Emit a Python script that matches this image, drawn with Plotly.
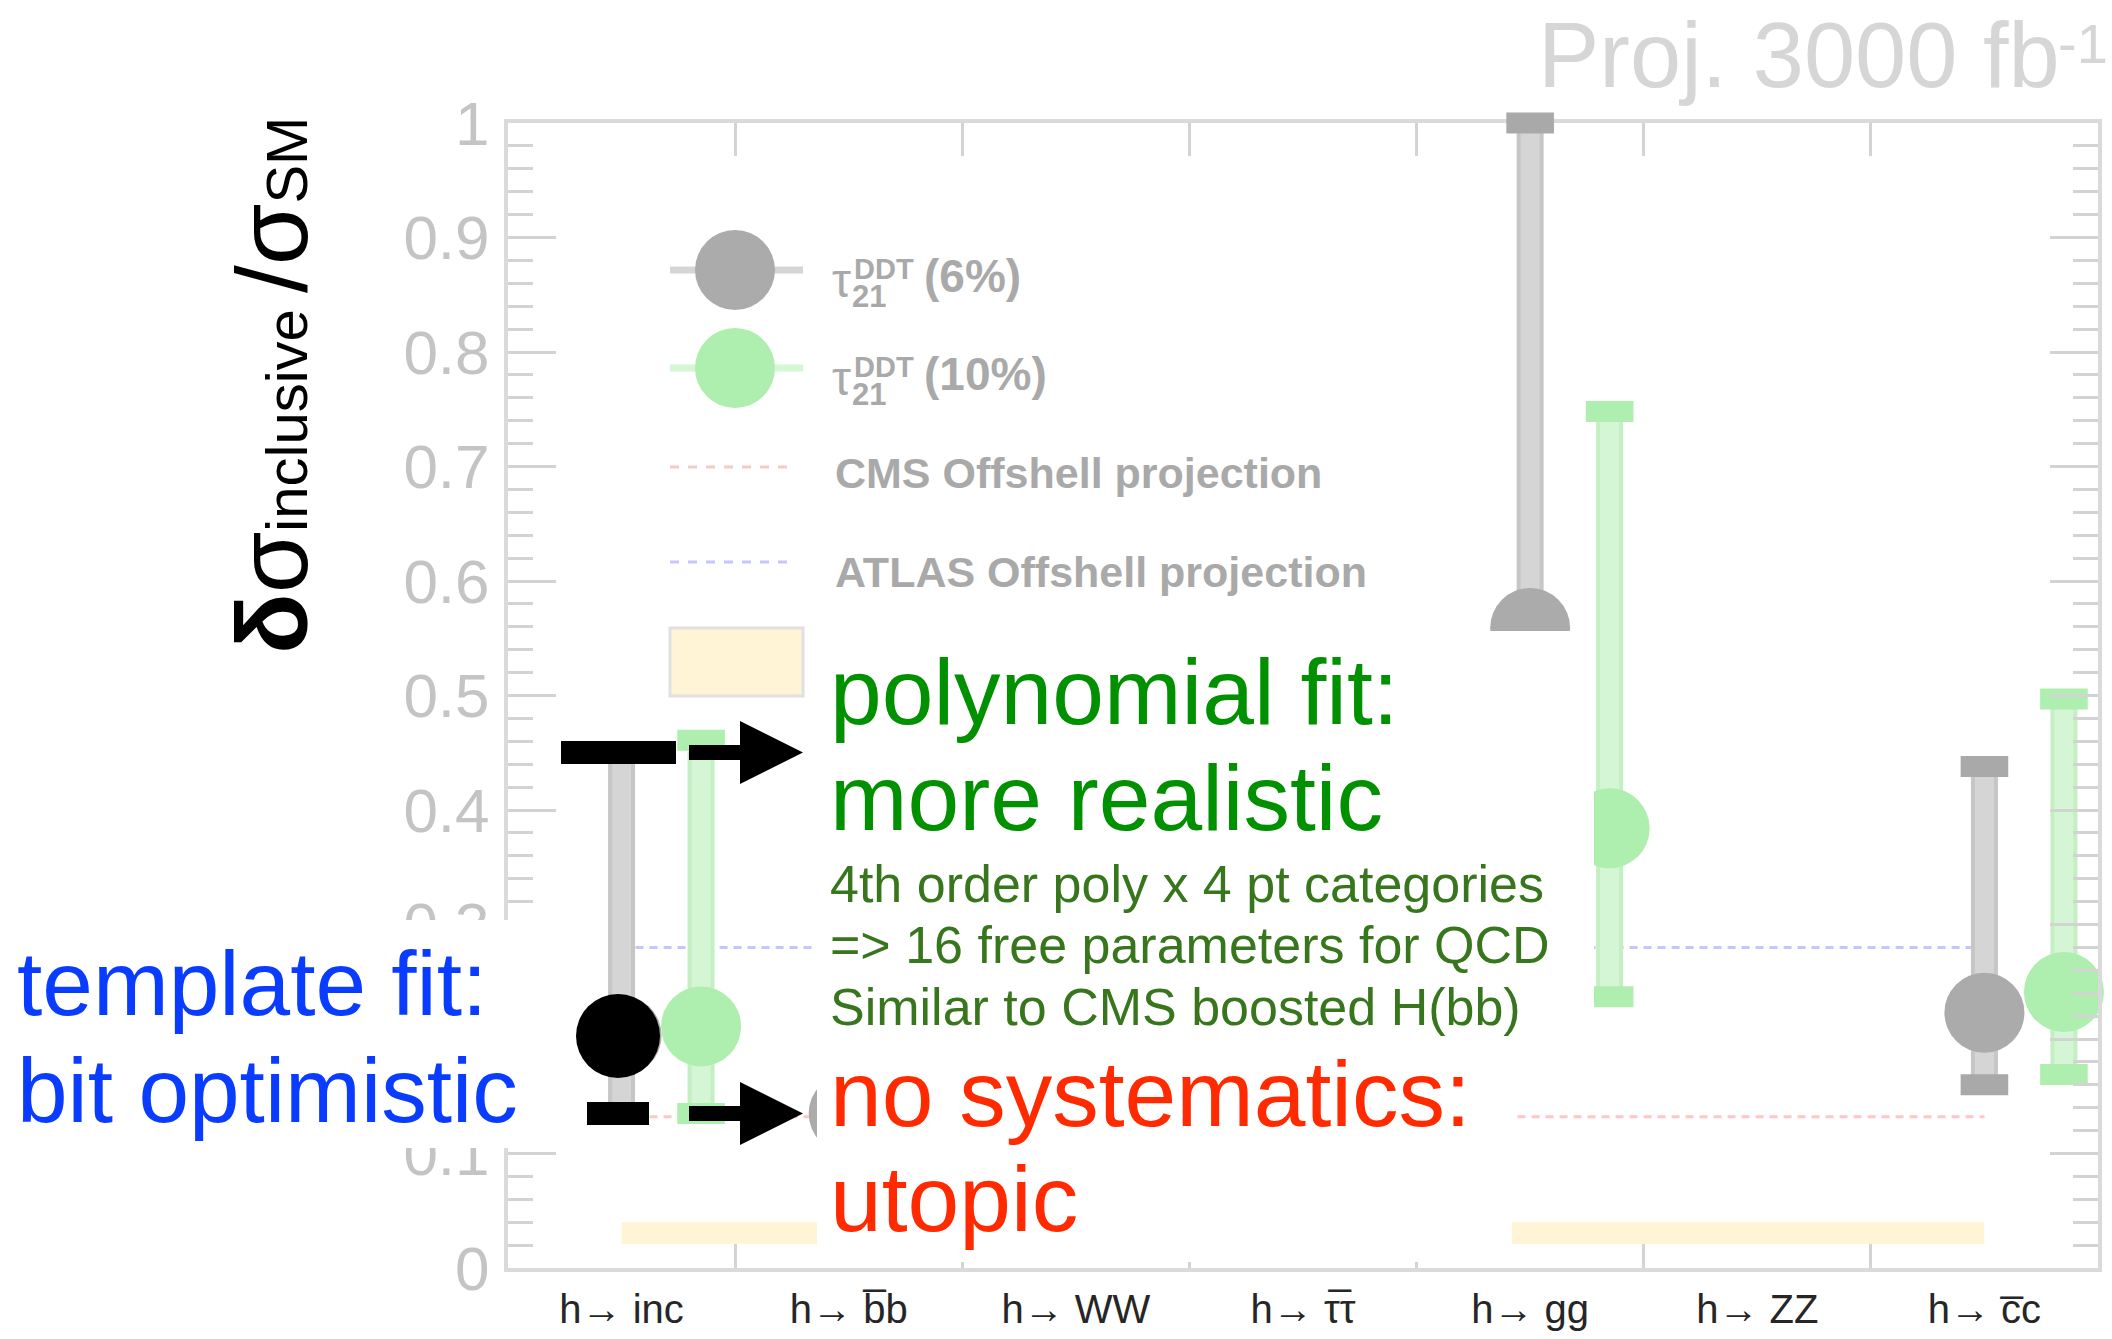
import plotly.graph_objects as go

W, H = 2112, 1339
FONT = "Liberation Sans, Arial, sans-serif"

# ---------------- data ----------------
categories = ["h\u2192 inc", "h\u2192 b\u0305b", "h\u2192 WW", "h\u2192 \u03c4\u0305\u03c4",
              "h\u2192 gg", "h\u2192 ZZ", "h\u2192 c\u0305c"]
# tau21 DDT (6%): central value, lower end, upper end (None = not visible)
gray_val = [0.203, 0.135, None, None, 0.559, None, 0.223]
gray_lo = [0.135, None, None, None, 0.300, None, 0.160]
gray_hi = [0.451, None, None, None, 1.0, None, 0.438]
# tau21 DDT (10%)
green_val = [0.211, None, None, None, 0.384, None, 0.241]
green_lo = [0.135, None, None, None, 0.237, None, 0.169]
green_hi = [0.461, None, None, None, 0.748, None, 0.497]
# projections
cms_offshell = [0.132] * 7
atlas_offshell = [0.280] * 7
band_lo = [0.021] * 7
band_hi = [0.040] * 7

centers = [i + 0.5 for i in range(len(categories))]
green_x = [c + 0.35 for c in centers]


def err_up(v, hi):
    return [(h - c) if (c is not None and h is not None) else None for c, h in zip(v, hi)]


def err_dn(v, lo):
    return [(c - l) if (c is not None and l is not None) else None for c, l in zip(v, lo)]


fig = go.Figure()

# yellow band
fig.add_trace(go.Scatter(x=centers, y=band_lo, mode="lines", line=dict(width=0),
                         showlegend=False, hoverinfo="skip"))
fig.add_trace(go.Scatter(x=centers, y=band_hi, mode="lines", line=dict(width=0),
                         fill="tonexty", fillcolor="#fff5d6", showlegend=False, hoverinfo="skip"))
# offshell projection lines
fig.add_trace(go.Scatter(x=centers, y=cms_offshell, mode="lines",
                         line=dict(color="#ffc6c6", width=3, dash="8px,6px"),
                         showlegend=False, hoverinfo="skip"))
fig.add_trace(go.Scatter(x=centers, y=atlas_offshell, mode="lines",
                         line=dict(color="#c6c6ff", width=3, dash="8px,6px"),
                         showlegend=False, hoverinfo="skip"))


def add_series(xs, val, lo, hi, edge, inner, cap, mcol):
    for th, col in ((27, edge), (19, inner)):
        fig.add_trace(go.Scatter(
            x=xs, y=val, mode="markers", marker=dict(size=1, color="rgba(0,0,0,0)"),
            error_y=dict(type="data", symmetric=False, array=err_up(val, hi),
                         arrayminus=err_dn(val, lo), thickness=th, width=0, color=col),
            cliponaxis=False, showlegend=False, hoverinfo="skip"))
    fig.add_trace(go.Scatter(
        x=xs + xs, y=lo + hi, mode="markers",
        marker=dict(symbol="line-ew", size=34, line=dict(width=21, color=cap)),
        cliponaxis=False, showlegend=False, hoverinfo="skip"))
    fig.add_trace(go.Scatter(
        x=xs, y=val, mode="markers",
        marker=dict(size=80, color=mcol, line=dict(width=0)),
        cliponaxis=False, showlegend=False, hoverinfo="skip"))


add_series(centers, gray_val, gray_lo, gray_hi, "#c6c6c6", "#d5d5d5", "#a9a9a9", "#ababab")
add_series(green_x, green_val, green_lo, green_hi, "#c3efc3", "#d4f6d4", "#aeeeae", "#aeeeae")

# invisible trace on the label axis
fig.add_trace(go.Scatter(x=centers, y=[0.5] * 7, xaxis="x2", mode="markers",
                         marker=dict(size=1, color="rgba(0,0,0,0)"),
                         showlegend=False, hoverinfo="skip"))

XL, XR, YT, YB = 508, 2098, 123, 1268
xdom = [XL / W, XR / W]
ydom = [1 - YB / H, 1 - YT / H]
TICKC = "#d3d3d3"
LINEC = "#dadada"


def px(x):
    return x / W


def py(y):
    return 1 - y / H


shapes = []


def rect(x0, y0, x1, y1, fill, line=None, lw=0):
    shapes.append(dict(type="rect", xref="paper", yref="paper", layer="above",
                       x0=px(x0), x1=px(x1), y0=py(y1), y1=py(y0), fillcolor=fill,
                       line=dict(width=lw, color=line or fill)))


def circle(cx, cy, r, fill):
    shapes.append(dict(type="circle", xref="paper", yref="paper", layer="above",
                       x0=px(cx - r), x1=px(cx + r), y0=py(cy + r), y1=py(cy - r),
                       fillcolor=fill, line=dict(width=0)))


def hline(x0, x1, y, col, w, dash="solid"):
    shapes.append(dict(type="line", xref="paper", yref="paper", layer="above",
                       x0=px(x0), x1=px(x1), y0=py(y), y1=py(y),
                       line=dict(color=col, width=w, dash=dash)))


def tri(pts, fill):
    path = "M " + " L ".join(f"{px(a):.5f},{py(b):.5f}" for a, b in pts) + " Z"
    shapes.append(dict(type="path", xref="paper", yref="paper", layer="above",
                       path=path, fillcolor=fill, line=dict(width=0)))


# hand-made legend
hline(670, 803, 270, "#d5d5d5", 7)
circle(735, 270, 40, "#ababab")
hline(670, 803, 368, "#d4f6d4", 7)
circle(735, 368, 40, "#aeeeae")
hline(670, 795, 467, "#ffc6c6", 3, "dash")
hline(670, 795, 562, "#c6c6ff", 3, "dash")
rect(670, 628, 803, 696, "#fff5d6", "#e0e0e0", 3)

# white cover boxes of the slide
rect(0, 920, 575, 1148, "white")
rect(817, 631, 1594, 1040, "white")
rect(817, 1040, 1512, 1262, "white")

# black markings
rect(561, 741, 676, 764, "black")
rect(689, 745, 741, 760, "black")
tri([(740, 721), (803, 752.5), (740, 784)], "black")
circle(618, 1036, 42, "black")
rect(587, 1102, 649, 1125, "black")
rect(689, 1106, 741, 1121, "black")
tri([(740, 1082), (803, 1113.5), (740, 1145)], "black")

annotations = []


def text(t, x, y, size, color, bold=False, anchor="left", angle=0):
    if bold:
        t = "<b>" + t + "</b>"
    annotations.append(dict(text=t, x=px(x), y=py(y), xref="paper", yref="paper",
                            xanchor=anchor, yanchor="middle", showarrow=False,
                            textangle=angle, font=dict(family=FONT, size=size, color=color)))


LEG = "#a9a9a9"
for dy, lab in ((0, "(6%)"), (98, "(10%)")):
    text("\u03c4", 830, 280 + dy, 48, LEG, False)
    text("DDT", 852, 269 + dy, 29, LEG, True)
    text("21", 850, 297 + dy, 31, LEG, True)
    text(lab, 922, 276 + dy, 46, LEG, True)
text("CMS Offshell projection", 833, 473, 43, LEG, True)
text("ATLAS Offshell projection", 833, 572, 43, LEG, True)

text("Proj. 3000 fb", 1536, 55, 92, "#d6d6d6")
text("-1", 2056, 44, 56, "#d6d6d6")

BLUE = "#0a3cff"
text("template fit:", 15, 983, 91, BLUE)
text("bit optimistic", 15, 1090, 91, BLUE)
GREEN = "#009000"
text("polynomial fit:", 828, 692, 93, GREEN)
text("more realistic", 828, 798, 93, GREEN)
DG = "#38761d"
text("4th order poly x 4 pt categories", 828, 884, 52, DG)
text("=> 16 free parameters for QCD", 828, 945, 52, DG)
text("Similar to CMS boosted H(bb)", 828, 1007, 52, DG)
RED = "#ff2a00"
text("no systematics:", 828, 1094, 93, RED)
text("utopic", 828, 1199, 93, RED)

text("<b>\u03b4</b>\u03c3<span style='font-size:58px'>inclusive </span>/\u03c3"
     "<span style='font-size:58px'>SM</span>", 272, 386, 100, "black", anchor="center", angle=-90)

fig.update_layout(
    width=W, height=H, margin=dict(l=0, r=0, t=0, b=0, autoexpand=False),
    paper_bgcolor="white", plot_bgcolor="white",
    showlegend=False,
    xaxis=dict(domain=xdom, range=[0, 7], tickvals=list(range(1, 7)),
               showticklabels=False, automargin=False,
               ticks="inside", ticklen=33, tickwidth=3, tickcolor=TICKC,
               showline=True, linecolor=LINEC, linewidth=4, mirror="ticks",
               showgrid=False, zeroline=False, layer="below traces"),
    xaxis2=dict(domain=xdom, range=[0, 7], overlaying="x", anchor="y", side="bottom",
                tickvals=centers, ticktext=categories, ticks="", showline=False,
                showgrid=False, zeroline=False, automargin=False, ticklabelstandoff=14,
                tickfont=dict(family=FONT, size=40, color="#262626")),
    yaxis=dict(domain=ydom, range=[0, 1], tick0=0, dtick=0.1, automargin=False,
               ticks="inside", ticklen=48, tickwidth=3, tickcolor=TICKC,
               minor=dict(dtick=0.02, ticks="inside", ticklen=25, tickwidth=3, tickcolor=TICKC),
               showline=True, linecolor=LINEC, linewidth=4, mirror="ticks",
               showgrid=False, zeroline=False, layer="above traces",
               tickfont=dict(family=FONT, size=62, color="#c4c4c4"),
               ticklabelstandoff=2),
    shapes=shapes, annotations=annotations,
)

fig.write_html("out.html")
